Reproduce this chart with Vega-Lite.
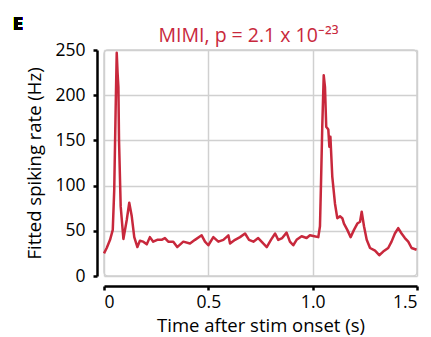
{
  "$schema": "https://vega.github.io/schema/vega-lite/v6.json",
  "width": 313,
  "height": 226,
  "autosize": {"type": "none"},
  "padding": {"left": 104, "top": 50, "right": 14, "bottom": 61},
  "background": "white",
  "config": {
    "view": {"stroke": "#d0d0d0", "strokeWidth": 1.5, "cornerRadius": 4},
    "font": "Open Sans",
    "axis": {
      "labelFont": "Open Sans",
      "titleFont": "Open Sans",
      "labelFontSize": 17.5,
      "titleFontSize": 18.5,
      "titleFontWeight": "normal",
      "labelColor": "black",
      "titleColor": "black",
      "domainColor": "black",
      "domainWidth": 2.5,
      "tickColor": "black",
      "tickWidth": 2.5,
      "tickSize": 4,
      "gridColor": "#d0d0d0",
      "gridWidth": 1.5
    }
  },
  "title": {
    "text": "MIMI, p = 2.1 x 10⁻²³",
    "color": "#c8283c",
    "fontSize": 19.5,
    "fontWeight": "normal",
    "font": "Open Sans",
    "anchor": "middle",
    "dx": -12,
    "dy": 38,
    "offset": 8
  },
  "data": {
    "values": [
      {"t": 0.000, "rate": 25}, {"t": 0.013, "rate": 31}, {"t": 0.029, "rate": 40}, {"t": 0.042, "rate": 51},
      {"t": 0.049, "rate": 95}, {"t": 0.056, "rate": 187}, {"t": 0.061, "rate": 247}, {"t": 0.065, "rate": 225},
      {"t": 0.069, "rate": 209}, {"t": 0.072, "rate": 150}, {"t": 0.080, "rate": 77}, {"t": 0.093, "rate": 41},
      {"t": 0.109, "rate": 62}, {"t": 0.121, "rate": 81}, {"t": 0.133, "rate": 66}, {"t": 0.145, "rate": 43},
      {"t": 0.160, "rate": 32}, {"t": 0.172, "rate": 39}, {"t": 0.188, "rate": 38}, {"t": 0.205, "rate": 35},
      {"t": 0.220, "rate": 43}, {"t": 0.236, "rate": 38}, {"t": 0.255, "rate": 40}, {"t": 0.276, "rate": 40},
      {"t": 0.292, "rate": 42}, {"t": 0.308, "rate": 38}, {"t": 0.332, "rate": 38}, {"t": 0.351, "rate": 32},
      {"t": 0.380, "rate": 38}, {"t": 0.412, "rate": 36}, {"t": 0.436, "rate": 40}, {"t": 0.468, "rate": 45},
      {"t": 0.484, "rate": 38}, {"t": 0.500, "rate": 34}, {"t": 0.524, "rate": 43}, {"t": 0.548, "rate": 38},
      {"t": 0.572, "rate": 40}, {"t": 0.596, "rate": 45}, {"t": 0.604, "rate": 36}, {"t": 0.628, "rate": 40},
      {"t": 0.652, "rate": 43}, {"t": 0.676, "rate": 47}, {"t": 0.695, "rate": 40}, {"t": 0.716, "rate": 38},
      {"t": 0.739, "rate": 42}, {"t": 0.763, "rate": 36}, {"t": 0.780, "rate": 32}, {"t": 0.800, "rate": 40},
      {"t": 0.820, "rate": 47}, {"t": 0.835, "rate": 40}, {"t": 0.854, "rate": 42}, {"t": 0.875, "rate": 48},
      {"t": 0.891, "rate": 38}, {"t": 0.907, "rate": 34}, {"t": 0.923, "rate": 40}, {"t": 0.947, "rate": 44},
      {"t": 0.971, "rate": 42}, {"t": 0.987, "rate": 45}, {"t": 1.008, "rate": 44}, {"t": 1.027, "rate": 43},
      {"t": 1.035, "rate": 55}, {"t": 1.040, "rate": 103}, {"t": 1.046, "rate": 165}, {"t": 1.053, "rate": 222},
      {"t": 1.059, "rate": 209}, {"t": 1.065, "rate": 165}, {"t": 1.075, "rate": 162}, {"t": 1.080, "rate": 143},
      {"t": 1.085, "rate": 154}, {"t": 1.094, "rate": 110}, {"t": 1.107, "rate": 80}, {"t": 1.118, "rate": 64},
      {"t": 1.131, "rate": 66}, {"t": 1.142, "rate": 64}, {"t": 1.150, "rate": 58}, {"t": 1.166, "rate": 51},
      {"t": 1.182, "rate": 43}, {"t": 1.198, "rate": 51}, {"t": 1.214, "rate": 58}, {"t": 1.227, "rate": 60},
      {"t": 1.235, "rate": 71}, {"t": 1.246, "rate": 55}, {"t": 1.259, "rate": 40}, {"t": 1.275, "rate": 31},
      {"t": 1.299, "rate": 28}, {"t": 1.319, "rate": 23}, {"t": 1.338, "rate": 27}, {"t": 1.362, "rate": 31},
      {"t": 1.378, "rate": 38}, {"t": 1.394, "rate": 47}, {"t": 1.410, "rate": 53}, {"t": 1.426, "rate": 47},
      {"t": 1.442, "rate": 42}, {"t": 1.458, "rate": 38}, {"t": 1.474, "rate": 31}, {"t": 1.498, "rate": 29}
    ]
  },
  "layer": [
    {
      "mark": {"type": "line", "color": "#c8283c", "strokeWidth": 2.5, "strokeJoin": "round"},
      "encoding": {
        "x": {
          "field": "t", "type": "quantitative",
          "scale": {"domain": [0, 1.5], "nice": false, "zero": false},
          "axis": {
            "title": "Time after stim onset (s)",
            "values": [0, 0.5, 1, 1.5],
            "labelExpr": "datum.value == 0 ? '0' : format(datum.value, '.1f')",
            "offset": 10,
            "labelPadding": 3,
            "titlePadding": 6
          }
        },
        "y": {
          "field": "rate", "type": "quantitative",
          "scale": {"domain": [0, 250], "nice": false},
          "axis": {
            "title": "Fitted spiking rate (Hz)",
            "values": [0, 50, 100, 150, 200, 250],
            "offset": 7,
            "labelPadding": 8,
            "titlePadding": 10
          }
        }
      }
    },
    {
      "mark": {"type": "text", "text": "E", "font": "Open Sans", "fontWeight": "bold", "fontSize": 18, "align": "left", "baseline": "alphabetic", "color": "black"},
      "encoding": {
        "x": {"datum": -0.436, "type": "quantitative"},
        "y": {"datum": 272, "type": "quantitative"}
      }
    }
  ]
}
